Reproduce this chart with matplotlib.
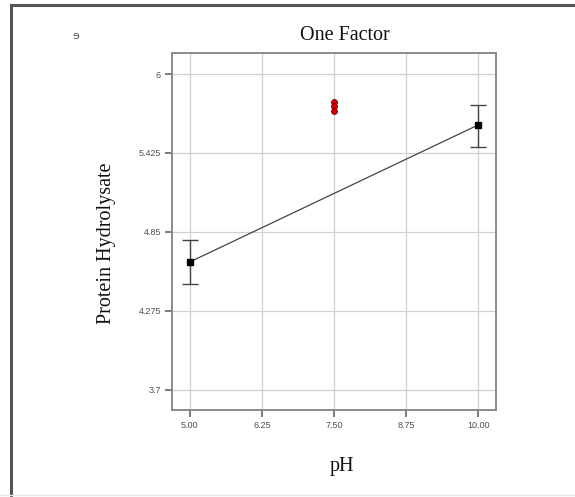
import matplotlib
matplotlib.use('Agg')
import matplotlib.pyplot as plt
from matplotlib.lines import Line2D

# data
ph_levels = [5.00, 10.00]
means = [4.632, 5.629]
err_low = [0.161, 0.160]
err_high = [0.160, 0.145]
center_x = [7.50, 7.50, 7.50]
center_y = [5.796, 5.767, 5.731]
xticks = [5.00, 6.25, 7.50, 8.75, 10.00]
xtick_labels = ['5.00', '6.25', '7.50', '8.75', '10.00']
yticks = [3.7, 4.275, 4.85, 5.425, 6]
ytick_labels = ['3.7', '4.275', '4.85', '5.425', '6']

serif = ['Liberation Serif', 'DejaVu Serif']
sans = ['Liberation Sans', 'DejaVu Sans']

fig = plt.figure(figsize=(5.75, 4.97), dpi=100)

# outer page frame
fig.add_artist(Line2D([11/575, 11/575], [0, 1 - 5/497], transform=fig.transFigure,
                      color='#555555', lw=2.2))
fig.add_artist(Line2D([11/575, 1], [1 - 5/497, 1 - 5/497], transform=fig.transFigure,
                      color='#555555', lw=2.2))
fig.add_artist(Line2D([0, 1], [2/497, 2/497], transform=fig.transFigure,
                      color='#e6e6e6', lw=1))

ax = fig.add_axes([172/575, 1 - 410/497, 324/575, 357/497])

ax.plot(ph_levels, means, color='#444444', lw=0.9, zorder=3)
ax.errorbar(ph_levels, means, yerr=[err_low, err_high], fmt='s', color='black',
            ecolor='#444444', elinewidth=1.0, capsize=5.5, capthick=1.0,
            markersize=5, zorder=4)
ax.scatter(center_x, center_y, s=18, color='#dd0000', edgecolor='#660000',
           linewidth=0.6, zorder=5)

ax.set_xlim(4.69, 10.31)
ax.set_ylim(3.554, 6.153)
ax.set_xticks(xticks)
ax.set_xticklabels(xtick_labels)
ax.set_yticks(yticks)
ax.set_yticklabels(ytick_labels)
ax.grid(True, color='#d0d0d0', lw=0.9)
ax.set_axisbelow(True)

for s in ax.spines.values():
    s.set_color('#8a8a8a')
    s.set_linewidth(1.4)
ax.tick_params(direction='out', length=5, width=1.2, color='#666666',
               labelsize=6.5, labelcolor='#505050', pad=3)
for lab in ax.get_xticklabels() + ax.get_yticklabels():
    lab.set_family(sans)

fig.text(345/575, 1 - 35/497, 'One Factor', family=serif, fontsize=14.5,
         ha='center', va='center', color='#111111')
fig.text(342/575, 1 - 467/497, 'pH', family=serif, fontsize=14.5,
         ha='center', va='center', color='#111111')
fig.text(107/575, 1 - 243/497, 'Protein Hydrolysate', family=serif, fontsize=14.5,
         rotation=90, ha='center', va='center', color='#111111')
fig.text(76/575, 1 - 36/497, 'ɘ', fontsize=8, ha='center', va='center',
         color='#555555')

fig.savefig('out.png', dpi=100)
